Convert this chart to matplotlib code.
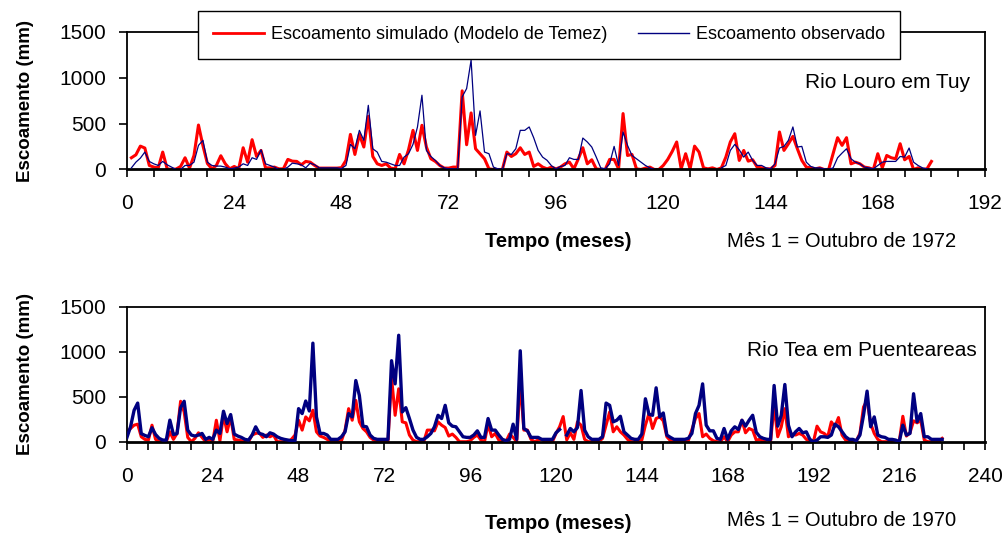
import numpy as np
import matplotlib
matplotlib.use("Agg")
import matplotlib.pyplot as plt
from matplotlib.ticker import MultipleLocator

nan = np.nan

# Rio Louro em Tuy (mes 1 = Outubro de 1972), meses 1..180
louro_simulado = [128, 160, 255, 234, 44, 26, 18, 190, 7, 0,
                  5, 33, 128, 15, 153, 485, 260, 65, 7, 44,
                  150, 62, 7, 33, 7, 237, 80, 325, 142, 208,
                  18, 18, 26, 7, 7, 110, 91, 88, 51, 88,
                  80, 44, 15, 15, 15, 15, 15, 20, 99, 383,
                  164, 383, 245, 580, 142, 62, 44, 62, 15, 7,
                  164, 62, 215, 427, 208, 482, 245, 117, 88, 44,
                  15, 15, 26, 26, 858, 270, 617, 226, 172, 117,
                  7, 0, 0, 0, 190, 142, 172, 237, 164, 190,
                  33, 62, 26, 7, 26, 7, 26, 62, 80, 7,
                  117, 237, 62, 106, 7, 0, 0, 110, 110, 7,
                  610, 153, 164, 7, 0, 15, 26, 0, 0, 44,
                  110, 197, 300, 7, 172, 7, 255, 190, 18, 7,
                  18, 0, 18, 135, 300, 390, 99, 208, 91, 106,
                  26, 18, 7, 7, 44, 409, 208, 281, 361, 226,
                  99, 26, 18, 7, 18, 0, 0, 172, 347, 263,
                  347, 62, 80, 62, 26, 18, 0, 172, 18, 153,
                  128, 117, 281, 106, 142, 0, 18, 0, 7, 88]

louro_observado = [18, 80, 124, 190, 88, 62, 44, 88, 51, 26,
                   0, 0, 44, 44, 80, 263, 318, 80, 44, 37,
                   37, 26, 7, 15, 26, 62, 44, 128, 110, 215,
                   62, 44, 26, 0, 0, 26, 69, 62, 51, 18,
                   69, 51, 18, 18, 18, 18, 18, 10, 44, 274,
                   226, 427, 318, 700, 226, 190, 88, 80, 62, 44,
                   44, 135, 172, 274, 464, 810, 208, 142, 99, 44,
                   18, 7, 7, 0, 792, 883, 1194, 372, 639, 190,
                   172, 26, 7, 0, 172, 164, 226, 427, 427, 464,
                   347, 208, 135, 100, 40, 7, 33, 44, 128, 110,
                   110, 343, 300, 245, 135, 18, 7, 62, 252, 44,
                   409, 263, 153, 117, 80, 44, 18, 0, nan, nan,
                   nan, nan, nan, nan, nan, nan, nan, nan, nan, nan,
                   nan, nan, 18, 44, 208, 274, 215, 135, 190, 99,
                   44, 44, 18, 7, 62, 234, 252, 318, 464, 245,
                   252, 80, 33, 18, 18, 7, 0, 18, 128, 179,
                   226, 117, 80, 62, 26, 18, 7, 44, 80, 88,
                   88, 88, 142, 135, 234, 80, 44, 18, 7, nan]

# Rio Tea em Puenteareas (mes 1 = Outubro de 1970), meses 0..228
tea_simulado = [103, 147, 184, 195, 55, 26, 18, 184, 26, 0,
                0, 0, 110, 26, 92, 450, 330, 48, 0, 37,
                99, 48, 0, 26, 0, 239, 11, 294, 110, 276,
                26, 18, 11, 0, 0, 74, 92, 99, 48, 74,
                55, 74, 0, 0, 0, 0, 26, 74, 239, 129,
                276, 232, 350, 110, 63, 48, 26, 0, 0, 0,
                11, 129, 368, 239, 460, 221, 147, 110, 48, 18,
                0, 0, 0, 0, 718, 294, 589, 221, 210, 74,
                18, 0, 0, 0, 129, 129, 121, 221, 184, 158,
                63, 85, 48, 0, 0, 0, 11, 48, 74, 18,
                0, 195, 55, 92, 18, 0, 0, 85, 48, 0,
                673, 129, 129, 26, 0, 18, 26, 0, 0, 0,
                92, 166, 280, 20, 99, 26, 221, 184, 26, 0,
                0, 0, 0, 37, 184, 331, 110, 166, 110, 74,
                26, 0, 0, 0, 18, 184, 313, 147, 258, 276,
                232, 55, 11, 0, 0, 0, 0, 11, 136, 258,
                313, 55, 85, 37, 11, 0, 0, 55, 0, 74,
                110, 110, 239, 99, 147, 129, 18, 26, 0, 26,
                0, 405, 55, 166, 368, 55, 85, 74, 92, 74,
                26, 11, 0, 173, 110, 92, 55, 221, 166, 269,
                74, 18, 0, 0, 11, 92, 386, 460, 202, 92,
                26, 0, 0, 0, 0, 0, 0, 283, 63, 99,
                232, 210, 239, 18, 0, 0, 0, 0, 37]

tea_observado = [48, 166, 350, 430, 90, 70, 55, 155, 80, 37,
                 18, 18, 240, 80, 90, 380, 450, 129, 74, 63,
                 74, 92, 26, 48, 26, 129, 92, 339, 202, 302,
                 85, 63, 48, 26, 18, 74, 166, 92, 81, 55,
                 99, 85, 55, 37, 26, 18, 11, 11, 368, 313,
                 453, 342, 1097, 276, 92, 92, 74, 26, 26, 26,
                 55, 110, 313, 276, 681, 515, 173, 166, 74, 37,
                 26, 26, 26, 26, 902, 644, 1185, 331, 379, 258,
                 129, 48, 26, 26, 55, 92, 166, 294, 258, 405,
                 210, 173, 166, 110, 55, 48, 48, 74, 121, 48,
                 48, 258, 129, 129, 74, 26, 11, 26, 195, 26,
                 1012, 147, 121, 48, 48, 48, 26, 26, 26, 26,
                 99, 136, nan, 74, 147, 110, 158, 570, 129, 55,
                 26, 26, 26, 55, 430, 405, 221, 239, 283, 110,
                 74, 37, 26, 26, 85, 478, 305, 294, 600, 276,
                 320, 74, 48, 26, 26, 26, 26, 37, 92, 313,
                 405, 644, 184, 121, 121, 37, 26, 147, 26, 121,
                 166, 136, 239, 173, 239, 294, 105, 55, 37, 26,
                 26, 626, 173, 294, 637, 184, 55, 110, 147, 99,
                 110, 26, 0, 18, 55, 55, 48, 74, 195, 166,
                 110, 55, 26, 26, 11, 74, 294, 563, 166, 276,
                 74, 55, 48, 26, 26, 18, 0, 184, 74, 92,
                 534, 221, 313, 55, 55, 26, 26, 26, 26]

meses_louro = np.arange(1, len(louro_simulado) + 1)
meses_tea = np.arange(0, len(tea_simulado))

plt.rcParams['font.family'] = ['Liberation Sans', 'DejaVu Sans']

VERMELHO = '#ff0000'
AZUL = '#000080'


def formatar_eixo(ax, xmax):
    # eixos ao estilo Excel: caixa preta, ticks para fora
    ax.set_xlim(0, xmax)
    ax.set_ylim(0, 1500)
    ax.xaxis.set_major_locator(MultipleLocator(24))
    ax.xaxis.set_minor_locator(MultipleLocator(6))
    ax.yaxis.set_major_locator(MultipleLocator(500))
    ax.tick_params(axis='both', which='both', direction='out', length=6,
                   width=1.2, labelsize=15, pad=9)
    ax.tick_params(axis='x', which='both', pad=12)
    for s in ax.spines.values():
        s.set_linewidth(1.3)
    ax.spines['bottom'].set_linewidth(2)
    ax.set_ylabel('Escoamento (mm)', fontsize=13.5, fontweight='bold', labelpad=18)


fig = plt.figure(figsize=(10.06, 5.35), dpi=100)

# grafico de cima
ax1 = fig.add_axes([0.1262, 0.6832, 0.853, 0.257])
l1, = ax1.plot(meses_louro, louro_simulado, color=VERMELHO, lw=2.2, zorder=2)
l2, = ax1.plot(meses_louro, louro_observado, color=AZUL, lw=0.9, zorder=3)
formatar_eixo(ax1, 192)
ax1.text(0.9825, 0.636, 'Rio Louro em Tuy', transform=ax1.transAxes,
         ha='right', va='center', fontsize=15)
fig.text(0.555, 0.548, 'Tempo (meses)', ha='center', va='center',
         fontsize=14.5, fontweight='bold')
fig.text(0.837, 0.548, 'Mês 1 = Outubro de 1972', ha='center', va='center',
         fontsize=14.5)

# grafico de baixo
ax2 = fig.add_axes([0.1262, 0.1744, 0.853, 0.2518])
ax2.plot(meses_tea, tea_simulado, color=VERMELHO, lw=2.2, zorder=2)
ax2.plot(meses_tea, tea_observado, color=AZUL, lw=2.4, zorder=3)
formatar_eixo(ax2, 240)
ax2.text(0.99, 0.68, 'Rio Tea em Puenteareas', transform=ax2.transAxes,
         ha='right', va='center', fontsize=15)
fig.text(0.555, 0.022, 'Tempo (meses)', ha='center', va='center',
         fontsize=14.5, fontweight='bold')
fig.text(0.837, 0.028, 'Mês 1 = Outubro de 1970', ha='center', va='center',
         fontsize=14.5)

leg = fig.legend([l1, l2], ['Escoamento simulado (Modelo de Temez)', 'Escoamento observado'],
                 loc='center', bbox_to_anchor=(0.546, 0.9346), ncol=2,
                 fontsize=13, frameon=True, fancybox=False, shadow=False,
                 handlelength=2.8, handletextpad=0.4, columnspacing=1.7,
                 borderpad=0.85, borderaxespad=0)
leg.get_frame().set_edgecolor('black')
leg.get_frame().set_linewidth(1.0)
leg.get_frame().set_alpha(1)
leg.set_zorder(10)
leg.get_lines()[0].set_linewidth(2)
leg.get_lines()[1].set_linewidth(1)

fig.savefig('out.png', dpi=100)
